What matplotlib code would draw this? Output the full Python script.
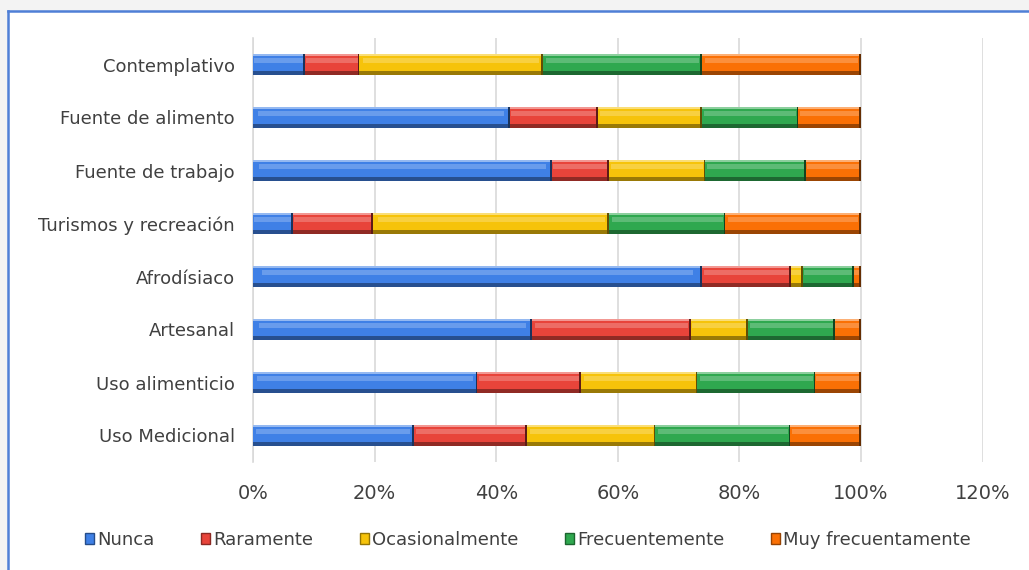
import matplotlib
matplotlib.use("Agg")
import matplotlib.pyplot as plt
from matplotlib.patches import Rectangle
from matplotlib.colors import to_rgb
import numpy as np

categories = ["Contemplativo", "Fuente de alimento", "Fuente de trabajo",
              "Turismos y recreación", "Afrodísiaco", "Artesanal",
              "Uso alimenticio", "Uso Medicional"]
series_names = ["Nunca", "Raramente", "Ocasionalmente", "Frecuentemente",
                "Muy frecuentamente"]

nunca = [8.6, 42.2, 49.1, 6.5, 73.9, 45.9, 36.9, 26.4]
raramente = [8.9, 14.5, 9.5, 13.2, 14.6, 26.1, 17.1, 18.7]
ocasionalmente = [30.2, 17.2, 15.8, 38.9, 1.9, 9.4, 19.1, 21.1]
frecuentemente = [26.2, 15.8, 16.6, 19.1, 8.4, 14.3, 19.4, 22.2]
muy_frecuente = [26.1, 10.3, 9.0, 22.3, 1.2, 4.3, 7.5, 11.6]

x_ticks = [0, 20, 40, 60, 80, 100, 120]
x_tick_labels = ["0%", "20%", "40%", "60%", "80%", "100%", "120%"]

colors = ["#3f80e6", "#e8443a", "#f6c30a", "#2fa84f", "#fa7005"]

plt.rcParams["font.family"] = ["DejaVu Sans"]
text_color = "#404040"

fig = plt.figure(figsize=(10.29, 5.70), dpi=100)
fig.patch.set_facecolor("#f3f3f3")

# white chart panel with a blue frame on the top and left
panel = Rectangle((8 / 1029, 0), 1.0, 1 - 11 / 570, transform=fig.transFigure,
                  facecolor="white", edgecolor="none", zorder=-10)
fig.add_artist(panel)
fig.add_artist(plt.Line2D([8 / 1029, 1.0], [1 - 11 / 570, 1 - 11 / 570],
                          transform=fig.transFigure, color="#4f7fd6", lw=1.8,
                          zorder=-5))
fig.add_artist(plt.Line2D([8 / 1029, 8 / 1029], [0, 1 - 11 / 570],
                          transform=fig.transFigure, color="#4f7fd6", lw=1.8,
                          zorder=-5))

ax = fig.add_axes([253 / 1029, 1 - 462 / 570, 729.6 / 1029, 424 / 570])
ax.set_facecolor("white")
ax.set_zorder(1)

def shade(c, f):
    r = np.array(to_rgb(c))
    if f >= 0:
        return tuple(r + (1 - r) * f)
    return tuple(r * (1 + f))

data = [nunca, raramente, ocasionalmente, frecuentemente, muy_frecuente]
y = np.arange(len(categories))
h = 0.38
left = np.zeros(len(categories))
for vals, col, name in zip(data, colors, series_names):
    vals = np.array(vals)
    # beveled look: dark base, mid body, soft highlight band, dark joint
    ax.barh(y, vals, left=left, height=h, color=shade(col, -0.38),
            edgecolor="none", zorder=3, label=name)
    ax.barh(y - h * 0.06, vals, left=left, height=h * 0.76, color=col,
            edgecolor="none", zorder=4)
    ax.barh(y - h * 0.2, vals * 0.96, left=left + vals * 0.02, height=h * 0.22,
            color=shade(col, 0.22), edgecolor="none", zorder=5)
    ax.barh(y - h * 0.46, vals, left=left, height=h * 0.08,
            color=shade(col, 0.45), edgecolor="none", zorder=5)
    ax.barh(y, np.full_like(vals, 0.3), left=left + vals - 0.3, height=h,
            color=shade(col, -0.6), edgecolor="none", zorder=6)
    left = left + vals

ax.set_ylim(len(categories) - 0.5, -0.5)
ax.set_xlim(0, 120)
ax.set_yticks(y)
ax.set_yticklabels(categories, fontsize=13, color=text_color)
ax.set_xticks(x_ticks)
ax.set_xticklabels(x_tick_labels, fontsize=14, color=text_color)
ax.tick_params(axis="both", length=0)
ax.tick_params(axis="y", pad=13)
ax.tick_params(axis="x", pad=16)
ax.grid(axis="x", color="#d9d9d9", lw=1.2, zorder=0)
for s in ["top", "right", "bottom"]:
    ax.spines[s].set_visible(False)
ax.spines["left"].set_color("#d9d9d9")
ax.spines["left"].set_linewidth(1.2)

labels = series_names
handles = [Rectangle((0, 0), 1, 1, facecolor=c, edgecolor=shade(c, -0.4))
           for c in colors]
leg = fig.legend(handles, labels, loc="center", bbox_to_anchor=(528 / 1029, 1 - 540 / 570),
                 ncol=5, frameon=False, fontsize=13, handlelength=0.5,
                 handleheight=0.5, handletextpad=0.2, columnspacing=2.55)
for t in leg.get_texts():
    t.set_color(text_color)

fig.savefig("out.png", dpi=100, facecolor=fig.get_facecolor())
